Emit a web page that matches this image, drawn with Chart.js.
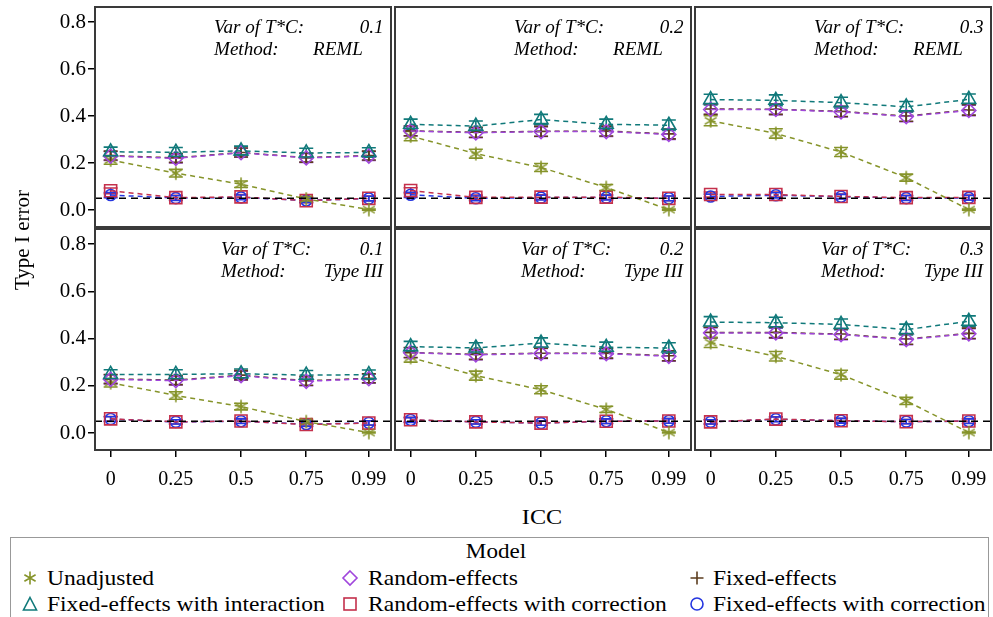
<!DOCTYPE html>
<html><head><meta charset="utf-8">
<script src="https://cdn.jsdelivr.net/npm/chart.js@4.4.1/dist/chart.umd.min.js"></script>
<style>
body{margin:0;background:#fff;}
#wrap{position:relative;width:993px;height:617px;overflow:hidden;font-family:"Liberation Serif","Times New Roman",serif;background:#fff;}
canvas{position:absolute;}
.t{position:absolute;white-space:nowrap;color:#000;line-height:1;font-family:"Liberation Serif","Times New Roman",serif;}
#legend{position:absolute;left:10px;top:537px;width:979px;height:100px;border:1px solid #999;box-sizing:border-box;}
</style></head><body><div id="wrap"><div id="legend"></div></div>
<script>
// ---- data ----
const icc = [0, 0.25, 0.5, 0.75, 0.99];
const iccLabels = ['0', '0.25', '0.5', '0.75', '0.99'];
const yTicks = [0, 0.2, 0.4, 0.6, 0.8];
const varTC = ['0.1', '0.2', '0.3', '0.1', '0.2', '0.3'];
const methods = ['REML', 'REML', 'REML', 'Type III', 'Type III', 'Type III'];
const refLevel = 0.05;
const seriesNames = ['Unadjusted', 'Random-effects', 'Fixed-effects', 'Fixed-effects with interaction', 'Random-effects with correction', 'Fixed-effects with correction'];
// panels: REML 0.1, REML 0.2, REML 0.3, Type III 0.1, Type III 0.2, Type III 0.3
const unadjusted = [
  [0.213, 0.157, 0.110, 0.047, 0.002],
  [0.315, 0.240, 0.181, 0.096, 0.002],
  [0.380, 0.326, 0.247, 0.138, 0.002],
  [0.213, 0.159, 0.112, 0.048, 0.002],
  [0.320, 0.243, 0.183, 0.100, 0.002],
  [0.383, 0.325, 0.247, 0.136, 0.002]];
const randomEffects = [
  [0.230, 0.220, 0.244, 0.222, 0.230],
  [0.336, 0.329, 0.334, 0.334, 0.322],
  [0.428, 0.428, 0.418, 0.398, 0.424],
  [0.227, 0.222, 0.243, 0.219, 0.230],
  [0.340, 0.331, 0.337, 0.336, 0.325],
  [0.424, 0.424, 0.417, 0.396, 0.420]];
const fixedEffects = [
  [0.232, 0.222, 0.245, 0.223, 0.232],
  [0.337, 0.331, 0.335, 0.336, 0.324],
  [0.430, 0.429, 0.420, 0.400, 0.426],
  [0.229, 0.224, 0.245, 0.221, 0.232],
  [0.341, 0.333, 0.338, 0.338, 0.327],
  [0.426, 0.426, 0.419, 0.398, 0.422]];
const fixedInteraction = [
  [0.248, 0.246, 0.252, 0.243, 0.245],
  [0.365, 0.357, 0.385, 0.365, 0.361],
  [0.470, 0.467, 0.457, 0.439, 0.471],
  [0.248, 0.248, 0.251, 0.245, 0.247],
  [0.366, 0.360, 0.381, 0.363, 0.360],
  [0.470, 0.467, 0.460, 0.438, 0.473]];
const randomCorrected = [
  [0.082, 0.053, 0.056, 0.040, 0.050],
  [0.083, 0.054, 0.055, 0.055, 0.050],
  [0.066, 0.066, 0.058, 0.053, 0.054],
  [0.060, 0.047, 0.051, 0.036, 0.042],
  [0.056, 0.047, 0.042, 0.050, 0.051],
  [0.047, 0.059, 0.052, 0.048, 0.051]];
const fixedCorrected = [
  [0.064, 0.051, 0.054, 0.041, 0.049],
  [0.065, 0.050, 0.053, 0.053, 0.050],
  [0.058, 0.063, 0.057, 0.051, 0.052],
  [0.059, 0.047, 0.050, 0.037, 0.043],
  [0.055, 0.047, 0.042, 0.050, 0.051],
  [0.047, 0.058, 0.052, 0.048, 0.050]];
// half-widths of the confidence bars
const unadjustedErr = [
  [0.018, 0.016, 0.014, 0.009, 0.002],
  [0.020, 0.019, 0.017, 0.013, 0.002],
  [0.021, 0.020, 0.019, 0.015, 0.002],
  [0.018, 0.016, 0.014, 0.009, 0.002],
  [0.020, 0.019, 0.017, 0.013, 0.002],
  [0.021, 0.020, 0.019, 0.015, 0.002]];
const randomEffectsErr = [
  [0.019, 0.019, 0.019, 0.019, 0.019],
  [0.021, 0.021, 0.021, 0.021, 0.021],
  [0.022, 0.022, 0.022, 0.022, 0.022],
  [0.019, 0.019, 0.019, 0.019, 0.019],
  [0.021, 0.021, 0.021, 0.021, 0.021],
  [0.022, 0.022, 0.022, 0.022, 0.022]];
const fixedEffectsErr = [
  [0.019, 0.019, 0.019, 0.019, 0.019],
  [0.021, 0.021, 0.021, 0.021, 0.021],
  [0.022, 0.022, 0.022, 0.022, 0.022],
  [0.019, 0.019, 0.019, 0.019, 0.019],
  [0.021, 0.021, 0.021, 0.021, 0.021],
  [0.022, 0.022, 0.022, 0.022, 0.022]];
const fixedInteractionErr = [
  [0.020, 0.020, 0.020, 0.020, 0.020],
  [0.022, 0.022, 0.022, 0.022, 0.022],
  [0.023, 0.023, 0.023, 0.023, 0.023],
  [0.020, 0.020, 0.020, 0.020, 0.020],
  [0.022, 0.022, 0.022, 0.022, 0.022],
  [0.023, 0.023, 0.023, 0.023, 0.023]];
const randomCorrectedErr = [
  [0.012, 0.010, 0.010, 0.009, 0.010],
  [0.012, 0.010, 0.010, 0.010, 0.010],
  [0.011, 0.011, 0.010, 0.010, 0.010],
  [0.010, 0.009, 0.010, 0.008, 0.009],
  [0.010, 0.009, 0.009, 0.010, 0.010],
  [0.009, 0.010, 0.010, 0.009, 0.010]];
const fixedCorrectedErr = [
  [0.011, 0.010, 0.010, 0.009, 0.010],
  [0.011, 0.010, 0.010, 0.010, 0.010],
  [0.010, 0.011, 0.010, 0.010, 0.010],
  [0.010, 0.009, 0.010, 0.008, 0.009],
  [0.010, 0.009, 0.009, 0.010, 0.010],
  [0.009, 0.010, 0.010, 0.009, 0.010]];

// ---- styles ----
const COL = {olive:'#86942a', purple:'#a046dc', brown:'#5c3d1e', teal:'#10797a', red:'#c4304c', blue:'#2536e0'};
const FONT = '"Liberation Serif","Times New Roman",serif';

function asteriskCanvas(color) {
  const c = document.createElement('canvas');
  c.width = 16; c.height = 16;
  const g = c.getContext('2d');
  g.strokeStyle = color; g.lineWidth = 1.6;
  [90, 30, 150].forEach(a => {
    const r = a * Math.PI / 180, dx = Math.cos(r) * 6.8, dy = Math.sin(r) * 6.8;
    g.beginPath(); g.moveTo(8 - dx, 8 - dy); g.lineTo(8 + dx, 8 + dy); g.stroke();
  });
  return c;
}
const astImg = asteriskCanvas(COL.olive);

const seriesDefs = [
  {vals: fixedInteraction, errs: fixedInteractionErr, color: COL.teal, style: 'triangle', r: 8},
  {vals: randomEffects, errs: randomEffectsErr, color: COL.purple, style: 'rectRot', r: 7},
  {vals: fixedEffects, errs: fixedEffectsErr, color: COL.brown, style: 'cross', r: 6},
  {vals: unadjusted, errs: unadjustedErr, color: COL.olive, style: astImg, r: 7},
  {vals: randomCorrected, errs: randomCorrectedErr, color: COL.red, style: 'rect', r: 8.5},
  {vals: fixedCorrected, errs: fixedCorrectedErr, color: COL.blue, style: 'circle', r: 5.5}
];

const errorBars = {
  id: 'errorBars',
  beforeDatasetsDraw(chart) {
    const ctx = chart.ctx, xs = chart.scales.x, ys = chart.scales.y;
    ctx.save();
    ctx.lineWidth = 1.6;
    chart.data.datasets.forEach(ds => {
      if (!ds.errs) return;
      ctx.strokeStyle = ds.borderColor;
      ds.data.forEach((pt, i) => {
        const x = xs.getPixelForValue(pt.x);
        const y1 = ys.getPixelForValue(pt.y - ds.errs[i]);
        const y2 = ys.getPixelForValue(pt.y + ds.errs[i]);
        ctx.beginPath();
        ctx.moveTo(x, y1); ctx.lineTo(x, y2);
        ctx.moveTo(x - 7, y1); ctx.lineTo(x + 7, y1);
        ctx.moveTo(x - 7, y2); ctx.lineTo(x + 7, y2);
        ctx.stroke();
      });
    });
    ctx.restore();
  }
};
const frame = {
  id: 'frame',
  afterDraw(chart) {
    const a = chart.chartArea, ctx = chart.ctx;
    ctx.save(); ctx.strokeStyle = '#3a3a3a'; ctx.lineWidth = 2;
    ctx.strokeRect(a.left, a.top, a.right - a.left, a.bottom - a.top);
    ctx.restore();
  }
};
function zeroPad(s) { s.paddingTop = 0; s.paddingBottom = 0; s.paddingLeft = 0; s.paddingRight = 0; }

const colLeft = [95, 395, 695];
const PW = 296;
const rowTop = [7, 229];
const rowBot = [227, 450];
const wrap = document.getElementById('wrap');

for (let p = 0; p < 6; p++) {
  const r = Math.floor(p / 3), c = p % 3;
  const L = colLeft[c], R = L + PW, T = rowTop[r], B = rowBot[r];
  const cl = c === 0 ? 0 : L - 2;
  const ct = T - 2;
  const cw = R + 2 - cl;
  const ch = (r === 1 ? 495 : B + 2) - ct;
  const cv = document.createElement('canvas');
  cv.width = cw; cv.height = ch;
  cv.style.left = cl + 'px'; cv.style.top = ct + 'px';
  cv.style.width = cw + 'px'; cv.style.height = ch + 'px';
  wrap.insertBefore(cv, document.getElementById('legend'));

  const showX = r === 1, showY = c === 0;
  const datasets = [{
    data: [{x: -0.06, y: refLevel}, {x: 1.075, y: refLevel}],
    borderColor: '#000', borderWidth: 1.5, borderDash: [7, 5], pointRadius: 0, fill: false
  }];
  seriesDefs.forEach(s => {
    datasets.push({
      data: icc.map((x, i) => ({x, y: s.vals[p][i]})),
      errs: s.errs[p],
      borderColor: s.color, backgroundColor: 'rgba(0,0,0,0)',
      borderWidth: 1.5, borderDash: [5, 4],
      pointStyle: s.style, pointRadius: s.r, pointBorderWidth: 1.6,
      pointBackgroundColor: 'rgba(0,0,0,0)', pointBorderColor: s.color, fill: false
    });
  });

  new Chart(cv, {
    type: 'line',
    data: {datasets},
    options: {
      responsive: false, animation: false, devicePixelRatio: 1,
      layout: {autoPadding: false, padding: {left: showY ? 0 : 2, right: 2, top: 2, bottom: showX ? 0 : 2}},
      plugins: {legend: {display: false}, tooltip: {enabled: false}},
      scales: {
        x: {
          type: 'linear', min: -0.06, max: 1.075, display: showX,
          afterBuildTicks: s => { s.ticks = icc.map(v => ({value: v})); },
          afterFit: s => { if (showX) s.height = 45; zeroPad(s); },
          grid: {drawOnChartArea: false, drawTicks: true, tickLength: 7, color: '#000', lineWidth: 1.5},
          border: {display: false},
          ticks: {font: {family: FONT, size: 20}, color: '#000', padding: 11, maxRotation: 0,
                  callback: (v, i) => iccLabels[i]}
        },
        y: {
          type: 'linear', min: -0.072, max: 0.864, display: showY,
          afterBuildTicks: s => { s.ticks = yTicks.map(v => ({value: v})); },
          afterFit: s => { if (showY) s.width = 95; zeroPad(s); },
          grid: {drawOnChartArea: false, drawTicks: true, tickLength: 7, color: '#000', lineWidth: 1.5},
          border: {display: false},
          ticks: {font: {family: FONT, size: 21}, color: '#000', padding: 2,
                  callback: v => Number(v).toFixed(1)}
        }
      }
    },
    plugins: [errorBars, frame]
  });
}

// ---- text ----
function addText(str, x, y, o) {
  const d = document.createElement('div');
  d.className = 't';
  d.textContent = str;
  d.style.fontSize = (o.size || 20) + 'px';
  if (o.italic) d.style.fontStyle = 'italic';
  const sx = o.sx || 1;
  d.style.top = y + 'px';
  if (o.anchor === 'right') {
    d.style.right = (993 - x) + 'px';
    d.style.transformOrigin = 'right center';
    d.style.transform = 'translateY(-50%) scaleX(' + sx + ')';
  } else if (o.anchor === 'center') {
    d.style.left = x + 'px';
    d.style.transform = 'translate(-50%,-50%) scaleX(' + sx + ')' + (o.rot ? ' rotate(' + o.rot + 'deg)' : '');
  } else {
    d.style.left = x + 'px';
    d.style.transformOrigin = 'left center';
    d.style.transform = 'translateY(-50%) scaleX(' + sx + ')';
  }
  (o.parent || wrap).appendChild(d);
  return d;
}

for (let p = 0; p < 6; p++) {
  const r = Math.floor(p / 3), c = p % 3;
  const dx = colLeft[c] - 95;
  const lx = (r === 0 ? 214 : 221) + dx;
  const y1 = r === 0 ? 27 : 249, y2 = r === 0 ? 49 : 271;
  addText('Var of T*C:', lx, y1, {size: 18, italic: true, sx: 1.06});
  addText(varTC[p], 383 + dx, y1, {size: 18, italic: true, sx: 1.06, anchor: 'right'});
  addText('Method:', lx, y2, {size: 18, italic: true, sx: 1.06});
  if (r === 0) addText(methods[p], 313 + dx, y2, {size: 18, italic: true, sx: 1.06});
  else addText(methods[p], 383 + dx, y2, {size: 18, italic: true, sx: 1.06, anchor: 'right'});
}

addText('Type I error', 22, 240, {size: 21, anchor: 'center', rot: -90});
addText('ICC', 542, 517, {size: 22, anchor: 'center', sx: 1.1});
addText('Model', 496, 551, {size: 21, anchor: 'center', sx: 1.1});

function svgMarker(kind, color) {
  const ns = 'http://www.w3.org/2000/svg';
  const s = document.createElementNS(ns, 'svg');
  s.setAttribute('width', '18'); s.setAttribute('height', '18');
  s.setAttribute('viewBox', '0 0 18 18');
  let inner = '';
  const st = 'fill="none" stroke="' + color + '" stroke-width="1.6"';
  if (kind === 'ast') inner = '<path ' + st + ' d="M9 2.5V15.5M3.4 5.75L14.6 12.25M3.4 12.25L14.6 5.75"/>';
  if (kind === 'tri') inner = '<path ' + st + ' d="M9 2.5L15.5 15H2.5Z"/>';
  if (kind === 'dia') inner = '<path ' + st + ' d="M9 2L16 9L9 16L2 9Z"/>';
  if (kind === 'plus') inner = '<path ' + st + ' d="M9 2.5V15.5M2.5 9H15.5"/>';
  if (kind === 'sq') inner = '<rect ' + st + ' x="3" y="3" width="12" height="12"/>';
  if (kind === 'circ') inner = '<circle ' + st + ' cx="9" cy="9" r="6"/>';
  s.innerHTML = inner;
  return s;
}
const legendItems = [
  {kind: 'ast', color: COL.olive, mx: 30, tx: 47, y: 578},
  {kind: 'dia', color: COL.purple, mx: 350, tx: 368, y: 578},
  {kind: 'plus', color: COL.brown, mx: 697, tx: 713, y: 578},
  {kind: 'tri', color: COL.teal, mx: 30, tx: 47, y: 604},
  {kind: 'sq', color: COL.red, mx: 350, tx: 368, y: 604},
  {kind: 'circ', color: COL.blue, mx: 697, tx: 713, y: 604}
];
legendItems.forEach((it, i) => {
  const m = svgMarker(it.kind, it.color);
  m.style.position = 'absolute';
  m.style.left = (it.mx - 9) + 'px'; m.style.top = (it.y - 9) + 'px';
  wrap.appendChild(m);
  addText(seriesNames[i], it.tx, it.y, {size: 21, sx: 1.12});
});
</script>
</body></html>
